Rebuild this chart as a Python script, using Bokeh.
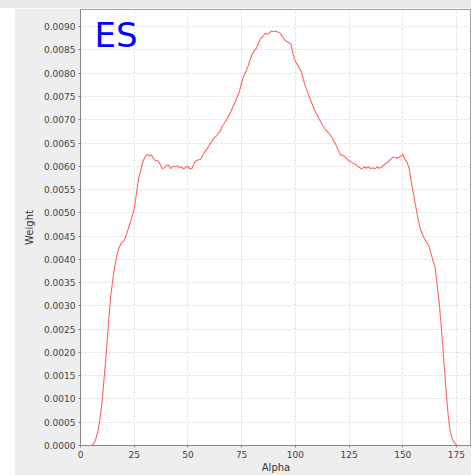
from bokeh.plotting import figure
from bokeh.models import Range1d, Label, NumeralTickFormatter, FixedTicker, Spacer
from bokeh.layouts import column, row
from bokeh.embed import file_html
from bokeh.resources import INLINE

alpha = list(range(0, 181))
weight = [
    0, 0, 0, 0, 0, 0.0, 0.00003, 0.00012, 0.00028, 0.00055,
    0.00092, 0.00145, 0.00198, 0.00262, 0.00318, 0.00355, 0.00386, 0.00410, 0.00425, 0.00435,
    0.00439, 0.00448, 0.00463, 0.00477, 0.00492, 0.00508, 0.00540, 0.00573, 0.00591, 0.00610,
    0.00620, 0.00626, 0.00622, 0.00625, 0.00616, 0.00612, 0.00612, 0.00605, 0.00595, 0.00597,
    0.00602, 0.00603, 0.00595, 0.00600, 0.00599, 0.00601, 0.00597, 0.00599, 0.00594, 0.00598,
    0.00600, 0.00594, 0.00596, 0.00608, 0.00612, 0.00614, 0.00615, 0.00625, 0.00632, 0.00638,
    0.00646, 0.00652, 0.00660, 0.00664, 0.00670, 0.00675, 0.00686, 0.00693, 0.00700, 0.00709,
    0.00718, 0.00728, 0.00738, 0.00750, 0.00762, 0.00780, 0.00795, 0.00803, 0.00815, 0.00830,
    0.00842, 0.00848, 0.00855, 0.00866, 0.00875, 0.00880, 0.00886, 0.00884, 0.00887, 0.00891,
    0.00889, 0.00891, 0.00888, 0.00886, 0.00878, 0.00872, 0.00868, 0.00866, 0.00862, 0.00840,
    0.00826, 0.00818, 0.00810, 0.00800, 0.00782, 0.00768, 0.00756, 0.00743, 0.00732, 0.00720,
    0.00712, 0.00702, 0.00694, 0.00686, 0.00679, 0.00674, 0.00669, 0.00662, 0.00654, 0.00645,
    0.00634, 0.00625, 0.00623, 0.00621, 0.00616, 0.00612, 0.00609, 0.00606, 0.00604, 0.00600,
    0.00597, 0.00594, 0.00599, 0.00596, 0.00599, 0.00595, 0.00597, 0.00594, 0.00599, 0.00596,
    0.00598, 0.00602, 0.00606, 0.00608, 0.00614, 0.00618, 0.00620, 0.00617, 0.00619, 0.00621,
    0.00626, 0.00615, 0.00609, 0.00595, 0.00566, 0.00540, 0.00515, 0.00490, 0.00468, 0.00455,
    0.00446, 0.00438, 0.00431, 0.00415, 0.00398, 0.00385, 0.00345, 0.00305, 0.00252, 0.00190,
    0.00128, 0.00072, 0.00032, 0.00015, 0.00006, 0.00001, 0, 0, 0, 0,
    0,
]
x_ticks = [0, 25, 50, 75, 100, 125, 150, 175]
y_ticks = [i * 0.0005 for i in range(0, 19)]

p = figure(width=457, height=467, output_backend="svg", toolbar_location=None,
           x_range=Range1d(0, 182), y_range=Range1d(0, 0.00937),
           min_border_left=66, min_border_right=0, min_border_top=1, min_border_bottom=28)
p.background_fill_color = "white"
p.border_fill_color = "#eeeeee"
p.outline_line_color = "#a0a0a0"

p.line(alpha, weight, line_color="#ff6464", line_width=1.1)

for ax in (p.xaxis[0], p.yaxis[0]):
    ax.major_label_text_font = "DejaVu Sans"
    ax.major_label_text_font_size = "9px"
    ax.major_label_text_color = "#444444"
    ax.axis_label_text_font = "DejaVu Sans"
    ax.axis_label_text_font_size = "10px"
    ax.axis_label_text_font_style = "normal"
    ax.axis_label_text_color = "#333333"
    ax.axis_line_color = "#888888"
    ax.major_tick_line_color = "#888888"
    ax.major_tick_out = 2
    ax.major_tick_in = 0
    ax.minor_tick_line_color = None
    ax.major_label_standoff = 3

p.xaxis.axis_label = "Alpha"
p.yaxis.axis_label = "Weight"
p.xaxis.axis_label_standoff = 1
p.yaxis.axis_label_standoff = 6
p.xaxis.ticker = FixedTicker(ticks=x_ticks)
p.yaxis.ticker = FixedTicker(ticks=y_ticks)
p.yaxis.formatter = NumeralTickFormatter(format="0.0000")

p.xgrid.ticker = FixedTicker(ticks=x_ticks)
p.ygrid.ticker = FixedTicker(ticks=y_ticks)
for g in (p.xgrid[0], p.ygrid[0]):
    g.grid_line_color = "#dadada"
    g.grid_line_dash = "2 2"
    g.grid_line_width = 1

p.add_layout(Label(x=14, y=411, x_units="screen", y_units="screen", text="ES",
                   text_color="#0000ff", text_font="DejaVu Sans", text_font_size="34px",
                   text_baseline="alphabetic"))

top = Spacer(width=471, height=8, styles={"background-color": "#e8e8e8"})
left = Spacer(width=14, height=467)
layout = column(top, row(left, p, spacing=0), spacing=0)

open("out.html", "w").write(file_html(layout, INLINE))
